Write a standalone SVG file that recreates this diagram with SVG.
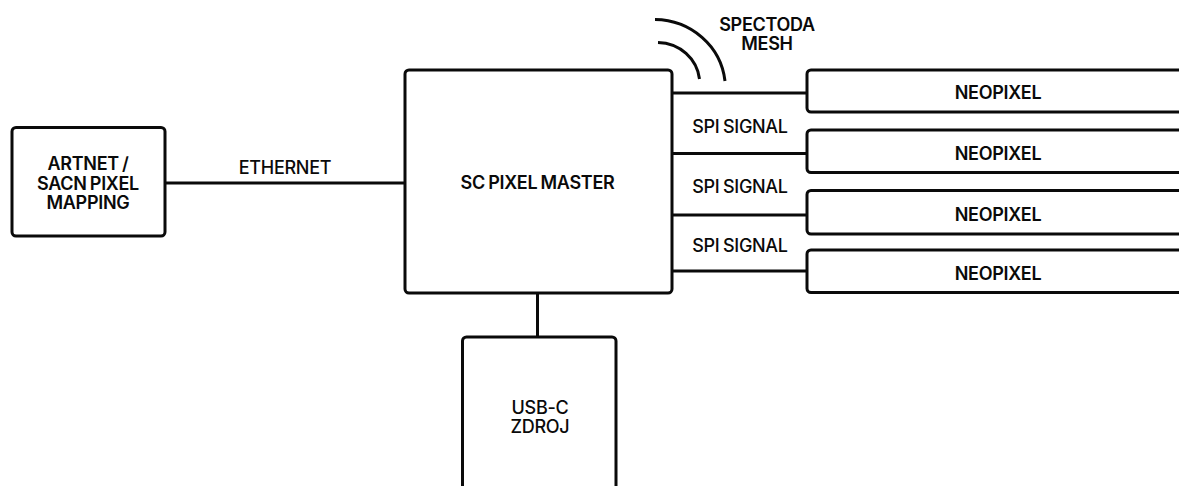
<svg xmlns="http://www.w3.org/2000/svg" width="1179" height="486" viewBox="0 0 1179 486">
<style>
.b{fill:#fff;stroke:#0a0a0a;stroke-width:3}
.c{fill:none;stroke:#0a0a0a;stroke-width:3;stroke-linecap:butt}
.t{font-family:Inter,"Liberation Sans",sans-serif;font-size:18px;font-weight:600;fill:#0a0a0a;text-anchor:middle;letter-spacing:-.3px;word-spacing:-1px}
.l{font-weight:500}
</style>
<rect width="1179" height="486" fill="#fff"/>
<g id="connectors">
<path class="c" d="M165 183H405M672 93H807M672 153.500H807M672 215H807M672 271H807M537.500 293V337"/>
<path id="mesh-outer" class="c" stroke-linecap="round" d="M655 19.500C691 20 721 46 725 81"/>
<path id="mesh-inner" class="c" stroke-linecap="round" d="M658 42.500C680 43 697 59 699.500 79"/>
</g>
<g id="artnet"><rect class="b" x="12" y="127.500" width="153" height="108.500" rx="4"/>
<text class="t" x="88" y="170">ARTNET /</text><text class="t" x="88" y="190">SACN PIXEL</text><text class="t" x="88" y="209">MAPPING</text></g>
<text class="t l" x="285" y="173.500">ETHERNET</text>
<g id="master"><rect class="b" x="405" y="70" width="267" height="223" rx="4"/>
<text class="t" x="537.500" y="188.500">SC PIXEL MASTER</text></g>
<g id="usb"><path class="b" d="M462.500 490V341a4 4 0 0 1 4-4H612a4 4 0 0 1 4 4V490"/>
<text class="t l" x="540" y="414">USB-C</text><text class="t l" x="540" y="433">ZDROJ</text></g>
<g id="neo1"><path class="b" d="M1185 70H811a4 4 0 0 0-4 4V108a4 4 0 0 0 4 4H1185"/><text class="t" x="998" y="98.500">NEOPIXEL</text></g>
<g id="neo2"><path class="b" d="M1185 130H811a4 4 0 0 0-4 4V168.500a4 4 0 0 0 4 4H1185"/><text class="t" x="998" y="159.500">NEOPIXEL</text></g>
<g id="neo3"><path class="b" d="M1185 190.500H811a4 4 0 0 0-4 4V230a4 4 0 0 0 4 4H1185"/><text class="t" x="998" y="220.500">NEOPIXEL</text></g>
<g id="neo4"><path class="b" d="M1185 250H811a4 4 0 0 0-4 4V288.500a4 4 0 0 0 4 4H1185"/><text class="t" x="998" y="279.500">NEOPIXEL</text></g>
<text class="t l" x="740" y="132.500">SPI SIGNAL</text>
<text class="t l" x="740" y="193">SPI SIGNAL</text>
<text class="t l" x="740" y="251.500">SPI SIGNAL</text>
<text class="t" x="767" y="30.500">SPECTODA</text><text class="t" x="767" y="49.500">MESH</text>
</svg>
